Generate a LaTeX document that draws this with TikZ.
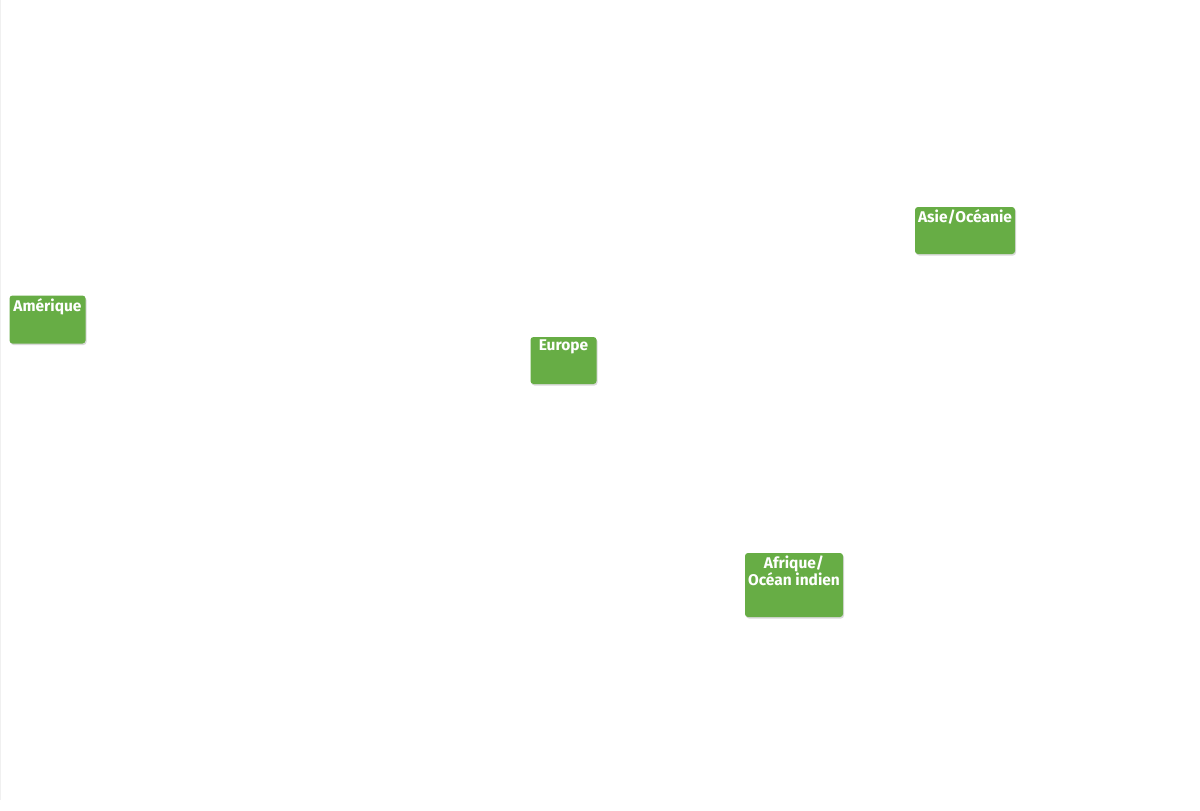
\documentclass[tikz,border=0pt]{standalone}
\usepackage{fontspec}
\setmainfont{Fira Sans}
\usetikzlibrary{shadows}
\definecolor{regiongreen}{HTML}{67AD45}
\begin{document}
\begin{tikzpicture}[x=1pt,y=-1pt,
    region/.style ={rectangle, fill=regiongreen, rounded corners=3pt, inner sep=0pt,
      drop shadow={shadow xshift=1pt, shadow yshift=-1.5pt, opacity=0.25, fill=black!60}},
    regionlabel/.style ={anchor=north, inner xsep=2pt, inner ysep=3pt, text=white, align=center,
      font=\fontsize{15.5}{16.5}\selectfont\bfseries}]
   \useasboundingbox (0,0) rectangle (1200,811);
   \draw[black!6] (0.5,0) -- (0.5,800);
   \node[region, minimum width=76pt, minimum height=48pt] (amerique) at (47.5,319.5) {};
   \node[region, minimum width=66pt, minimum height=47pt] (europe) at (563.5,360.5) {};
   \node[region, minimum width=100pt, minimum height=47pt] (asie) at (965,230.5) {};
   \node[region, minimum width=98pt, minimum height=64pt] (afrique) at (794,585) {};
   \node[regionlabel] (amerique label) at (amerique.north) {Amérique};
   \node[regionlabel] (europe label) at (europe.north) {Europe};
   \node[regionlabel] (asie label) at (asie.north) {Asie/Océanie};
   \node[regionlabel] (afrique label) at (afrique.north) {Afrique/\\Océan indien};
\end{tikzpicture}
\end{document}
